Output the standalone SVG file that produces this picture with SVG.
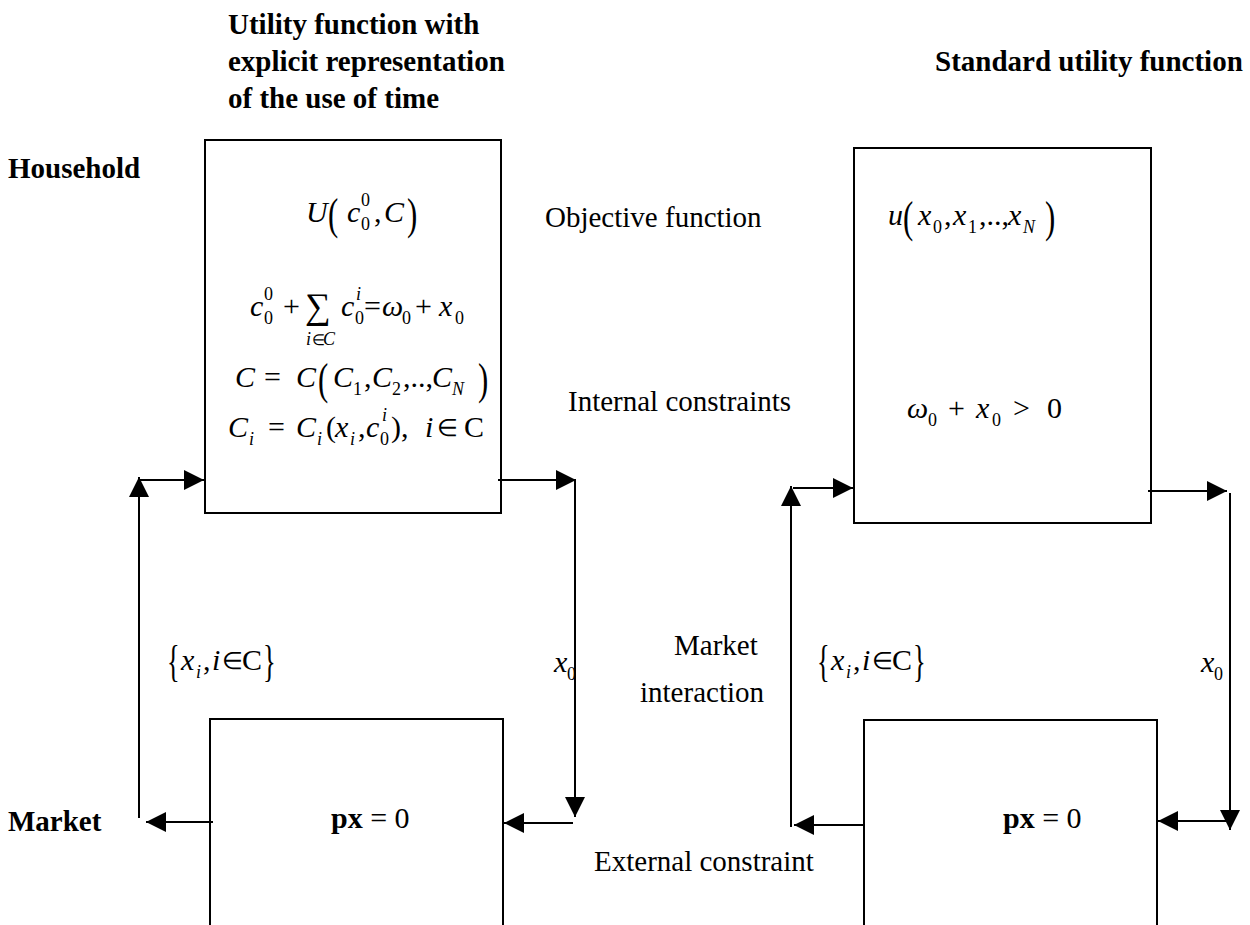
<svg xmlns="http://www.w3.org/2000/svg" width="1250" height="925" viewBox="0 0 1250 925">
<style>
.t{font-family:"Liberation Serif","Times New Roman",serif;font-size:29px;fill:#000}
.b{font-weight:bold}
.m{font-family:"Liberation Serif","Times New Roman",serif;font-size:30px;font-style:italic;fill:#000}
.r{font-family:"Liberation Serif","Times New Roman",serif;font-size:30px;fill:#000}
.s{font-size:18px}
.el{font-size:24px}
.big{font-family:"Liberation Serif","Times New Roman",serif;font-size:44px;fill:#000}
.box{fill:none;stroke:#000;stroke-width:2}
.c{fill:none;stroke:#000;stroke-width:2}
</style>
<defs>
<marker id="ah" viewBox="0 0 20 20" refX="20" refY="10" markerWidth="20" markerHeight="20" markerUnits="userSpaceOnUse" orient="auto">
<path d="M0,0 L20,10 L0,20 z" fill="#000"/>
</marker>
</defs>
<rect width="1250" height="925" fill="#fff"/>

<g id="headings">
<text class="t b" x="228" y="34">Utility function with</text>
<text class="t b" x="228" y="71">explicit representation</text>
<text class="t b" x="228" y="108">of the use of time</text>
<text class="t b" x="935" y="71">Standard utility function</text>
<text class="t b" x="8" y="178">Household</text>
<text class="t b" x="8" y="831">Market</text>
</g>

<g id="labels">
<text class="t" x="545" y="227">Objective function</text>
<text class="t" x="568" y="411">Internal constraints</text>
<text class="t" x="674" y="655">Market</text>
<text class="t" x="640" y="702">interaction</text>
<text class="t" x="594" y="871">External constraint</text>
</g>

<g id="household-left">
<rect class="box" x="205" y="140" width="296" height="373"/>
<!-- U(c0^0, C) -->
<text class="m" x="306" y="222">U</text>
<text class="big" transform="translate(328,229) scale(0.7,1)">(</text>
<text class="m" x="347" y="222">c</text>
<text class="r s" x="361" y="206">0</text>
<text class="r s" x="361" y="230">0</text>
<text class="r" x="374" y="222">,</text>
<text class="m" x="384" y="222">C</text>
<text class="big" transform="translate(407,229) scale(0.7,1)">)</text>
<!-- c0^0 + sum c0^i = w0 + x0 -->
<text class="m" x="250" y="316">c</text>
<text class="r s" x="264" y="300">0</text>
<text class="r s" x="264" y="324">0</text>
<text class="r" x="283" y="316">+</text>
<text class="r" style="font-size:36px" x="305" y="318">∑</text>
<text class="m s" x="306" y="345">i</text>
<text class="r el" style="font-size:15px" x="312" y="345">∈</text>
<text class="m s" x="323" y="345">C</text>
<text class="m" x="341" y="316">c</text>
<text class="m s" x="356" y="300">i</text>
<text class="r s" x="355" y="324">0</text>
<text class="r" x="364" y="316">=</text>
<text class="m" x="382" y="316">ω</text>
<text class="r s" x="402" y="324">0</text>
<text class="r" x="415" y="316">+</text>
<text class="m" x="439" y="316">x</text>
<text class="r s" x="455" y="324">0</text>
<!-- C = C(C1, C2, .., CN) -->
<text class="m" x="235" y="387">C</text>
<text class="r" x="264" y="387">=</text>
<text class="m" x="296" y="387">C</text>
<text class="big" transform="translate(318,394) scale(0.7,1)">(</text>
<text class="m" x="333" y="387">C</text>
<text class="r s" x="353" y="395">1</text>
<text class="r" x="364" y="387">,</text>
<text class="m" x="372" y="387">C</text>
<text class="r s" x="392" y="395">2</text>
<text class="r" x="403" y="387">,..,</text>
<text class="m" x="432" y="387">C</text>
<text class="m s" x="452" y="395">N</text>
<text class="big" transform="translate(478,394) scale(0.7,1)">)</text>
<!-- Ci = Ci (xi, c0^i), i in C -->
<text class="m" x="228" y="437">C</text>
<text class="m s" x="249" y="445">i</text>
<text class="r" x="268" y="437">=</text>
<text class="m" x="296" y="437">C</text>
<text class="m s" x="317" y="445">i</text>
<text class="r" x="326" y="437">(</text>
<text class="m" x="335" y="437">x</text>
<text class="m s" x="350" y="445">i</text>
<text class="r" x="358" y="437">,</text>
<text class="m" x="366" y="437">c</text>
<text class="m s" x="382" y="421">i</text>
<text class="r s" x="380" y="445">0</text>
<text class="r" x="391" y="437">),</text>
<text class="m" x="425" y="437">i</text>
<text class="r el" x="437" y="436">∈</text>
<text class="r" x="464" y="437">C</text>
</g>

<g id="household-right">
<rect class="box" x="854" y="148" width="297" height="375"/>
<text class="m" x="888" y="225">u</text>
<text class="big" transform="translate(903,232) scale(0.7,1)">(</text>
<text class="m" x="918" y="225">x</text>
<text class="r s" x="933" y="233">0</text>
<text class="r" x="944" y="225">,</text>
<text class="m" x="953" y="225">x</text>
<text class="r s" x="968" y="233">1</text>
<text class="r" x="979" y="225">,..,</text>
<text class="m" x="1008" y="225">x</text>
<text class="m s" x="1023" y="233">N</text>
<text class="big" transform="translate(1045,232) scale(0.7,1)">)</text>
<text class="m" x="907" y="418">ω</text>
<text class="r s" x="928" y="426">0</text>
<text class="r" x="948" y="418">+</text>
<text class="m" x="976" y="418">x</text>
<text class="r s" x="992" y="426">0</text>
<text class="r" x="1013" y="418">&gt;</text>
<text class="r" x="1047" y="418">0</text>
</g>

<g id="market-left">
<path class="box" d="M210,925 V719 H503 V925"/>
<text class="r" x="331" y="828"><tspan style="font-weight:bold">px</tspan> = 0</text>
</g>

<g id="market-right">
<path class="box" d="M864,925 V720 H1157 V925"/>
<text class="r" x="1003" y="828"><tspan style="font-weight:bold">px</tspan> = 0</text>
</g>

<g id="flow-labels">
<text class="big" transform="translate(167,676) scale(0.6,1)">{</text>
<text class="m" x="181" y="670">x</text>
<text class="m s" x="196" y="678">i</text>
<text class="r" x="203" y="670">,</text>
<text class="m" x="212" y="670">i</text>
<text class="r el" x="222" y="669">∈</text>
<text class="r" x="242" y="670">C</text>
<text class="big" transform="translate(263,676) scale(0.6,1)">}</text>
<text class="big" transform="translate(817,676) scale(0.6,1)">{</text>
<text class="m" x="831" y="670">x</text>
<text class="m s" x="846" y="678">i</text>
<text class="r" x="853" y="670">,</text>
<text class="m" x="862" y="670">i</text>
<text class="r el" x="872" y="669">∈</text>
<text class="r" x="892" y="670">C</text>
<text class="big" transform="translate(913,676) scale(0.6,1)">}</text>
<text class="m" x="554" y="672">x</text>
<text class="r s" x="567" y="680">0</text>
<text class="m" x="1201" y="672">x</text>
<text class="r s" x="1214" y="680">0</text>
</g>

<g id="connectors">
<line class="c" x1="139" y1="818" x2="139" y2="477" marker-end="url(#ah)"/>
<line class="c" x1="139" y1="480" x2="204" y2="480" marker-end="url(#ah)"/>
<line class="c" x1="498" y1="480" x2="576" y2="480" marker-end="url(#ah)"/>
<line class="c" x1="575" y1="480" x2="575" y2="817" marker-end="url(#ah)"/>
<line class="c" x1="573" y1="823" x2="504" y2="823" marker-end="url(#ah)"/>
<line class="c" x1="213" y1="822" x2="146" y2="822" marker-end="url(#ah)"/>
<line class="c" x1="791" y1="827" x2="791" y2="486" marker-end="url(#ah)"/>
<line class="c" x1="793" y1="488" x2="853" y2="488" marker-end="url(#ah)"/>
<line class="c" x1="1148" y1="491" x2="1227" y2="491" marker-end="url(#ah)"/>
<line class="c" x1="1230" y1="493" x2="1230" y2="830" marker-end="url(#ah)"/>
<line class="c" x1="1230" y1="821" x2="1158" y2="821" marker-end="url(#ah)"/>
<line class="c" x1="864" y1="825" x2="794" y2="825" marker-end="url(#ah)"/>
</g>
</svg>
